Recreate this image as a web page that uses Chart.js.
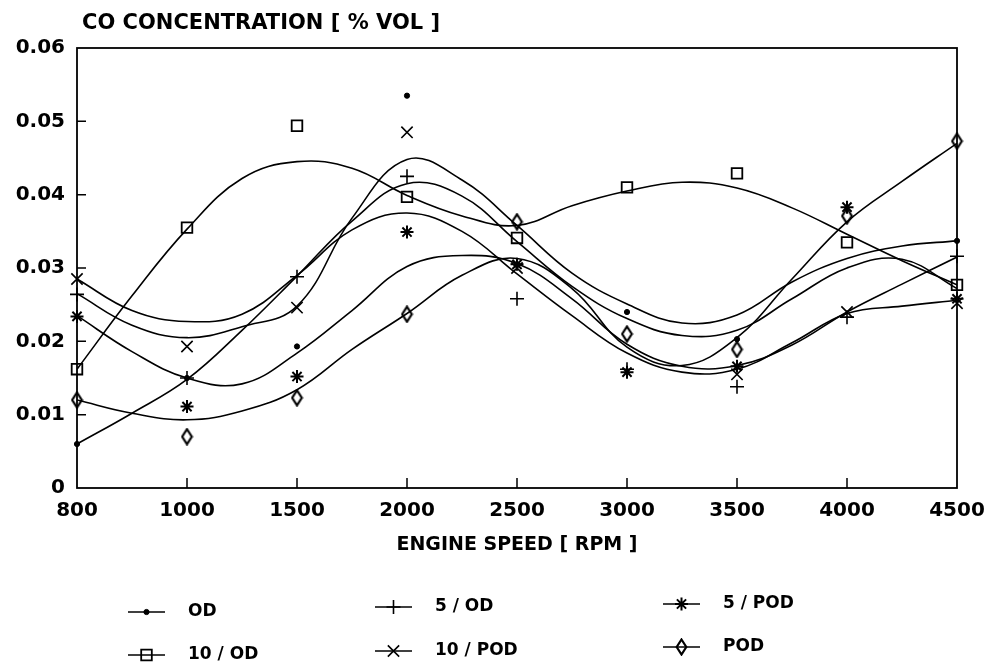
<!DOCTYPE html>
<html>
<head>
<meta charset="UTF-8">
<title>CO concentration vs engine speed</title>
<script src="https://cdn.jsdelivr.net/npm/chart.js"></script>
<style>
    html, body {
        margin: 0;
        padding: 0;
        background: #fff;
    }

    #wrap {
        position: relative;
        width: 992px;
        height: 665px;
    }
</style>
</head>
<body>
<div id="wrap"><canvas id="co" width="992" height="665"></canvas></div>
<script>
    // engine speed categories, drawn equally spaced
    const rpmLabels = ['800', '1000', '1500', '2000', '2500', '3000', '3500', '4000', '4500'];
    const yTicks = [0, 0.01, 0.02, 0.03, 0.04, 0.05, 0.06];
    const yTickLabels = ['0', '0.01', '0.02', '0.03', '0.04', '0.05', '0.06'];
    const yTitle = 'CO CONCENTRATION [ % VOL ]';
    const xTitle = 'ENGINE SPEED [ RPM ]';

    // measured points, one per rpm category (null = hidden under another marker)
    const odPts     = [0.0060, 0.0150, 0.0193, 0.0535, 0.0305, 0.0240, 0.0203, null,   0.0337];
    const fiveOdPts = [0.0264, 0.0150, 0.0288, 0.0425, 0.0258, 0.0162, 0.0138, 0.0233, 0.0316];
    const fivePodPts= [0.0234, 0.0111, 0.0152, 0.0349, 0.0305, 0.0158, 0.0166, 0.0383, 0.0258];
    const tenOdPts  = [0.0162, 0.0355, 0.0494, 0.0397, 0.0341, 0.0410, 0.0429, 0.0335, 0.0277];
    const tenPodPts = [0.0285, 0.0193, 0.0246, 0.0485, 0.0300, null,   0.0155, 0.0240, 0.0252];
    const podPts    = [0.0120, 0.0070, 0.0123, 0.0237, 0.0363, 0.0210, 0.0189, 0.0371, 0.0473];

    // fitted curves, every half category step
    const fitPos     = [0, 0.5, 1, 1.5, 2, 2.5, 3, 3.5, 4, 4.5, 5, 5.5, 6, 6.5, 7, 7.5, 8];
    const odFit      = [0.0060, 0.0102, 0.0148, 0.0215, 0.0289, 0.0364, 0.0415, 0.0398, 0.0336, 0.0275, 0.0231, 0.0208, 0.0215, 0.0258, 0.0300, 0.0312, 0.0272];
    const fiveOdFit  = [0.0265, 0.0222, 0.0205, 0.0220, 0.0248, 0.0368, 0.0448, 0.0420, 0.0358, 0.0293, 0.0251, 0.0225, 0.0236, 0.0281, 0.0313, 0.0330, 0.0337];
    const fivePodFit = [0.0235, 0.0186, 0.0150, 0.0142, 0.0184, 0.0242, 0.0302, 0.0317, 0.0306, 0.0258, 0.0196, 0.0166, 0.0167, 0.0195, 0.0240, 0.0278, 0.0315];
    const tenOdFit   = [0.0162, 0.0262, 0.0353, 0.0422, 0.0445, 0.0436, 0.0399, 0.0371, 0.0358, 0.0385, 0.0405, 0.0417, 0.0409, 0.0382, 0.0346, 0.0310, 0.0277];
    const tenPodFit  = [0.0285, 0.0242, 0.0227, 0.0237, 0.0290, 0.0352, 0.0375, 0.0350, 0.0292, 0.0235, 0.0184, 0.0158, 0.0162, 0.0198, 0.0238, 0.0248, 0.0256];
    const podFit     = [0.0120, 0.0102, 0.0093, 0.0105, 0.0134, 0.0189, 0.0238, 0.0290, 0.0313, 0.0272, 0.0192, 0.0167, 0.0205, 0.0285, 0.0363, 0.0418, 0.0470];

    const FONT = "'DejaVu Sans', 'Liberation Sans', sans-serif";

    // tall hollow diamond used for POD
    function diamond() {
        const c = document.createElement('canvas');
        c.width = 13;
        c.height = 18;
        const g = c.getContext('2d');
        g.strokeStyle = '#000';
        g.lineWidth = 2.2;
        g.beginPath();
        g.moveTo(6.5, 1.5);
        g.lineTo(11.3, 9);
        g.lineTo(6.5, 16.5);
        g.lineTo(1.7, 9);
        g.closePath();
        g.stroke();
        return c;
    }

    const series = [
        { name: 'OD',       pts: odPts,      fit: odFit,      style: 'circle',   r: 2.6, bw: 1,   fill: '#000' },
        { name: '5 / OD',   pts: fiveOdPts,  fit: fiveOdFit,  style: 'cross',    r: 7,   bw: 1.6, fill: 'transparent' },
        { name: '5 / POD',  pts: fivePodPts, fit: fivePodFit, style: 'star',     r: 6.5, bw: 2,   fill: 'transparent' },
        { name: '10 / OD',  pts: tenOdPts,   fit: tenOdFit,   style: 'rect',     r: 7.5, bw: 1.8, fill: 'transparent' },
        { name: '10 / POD', pts: tenPodPts,  fit: tenPodFit,  style: 'crossRot', r: 8,   bw: 1.6, fill: 'transparent' },
        { name: 'POD',      pts: podPts,     fit: podFit,     style: diamond(),  r: 8,   bw: 1.6, fill: 'transparent' }
    ];

    const datasets = [];
    series.forEach(s => {
        datasets.push({
            label: s.name,
            data: s.pts.map((v, i) => ({ x: i, y: v })),
            showLine: false,
            order: 0,
            clip: false,
            pointStyle: s.style,
            pointRadius: s.r,
            pointBorderWidth: s.bw,
            pointBorderColor: '#000',
            pointBackgroundColor: s.fill
        });
        datasets.push({
            label: s.name + ' fit',
            data: s.fit.map((v, i) => ({ x: fitPos[i], y: v })),
            order: 1,
            borderColor: '#000',
            borderWidth: 1.6,
            pointRadius: 0,
            fill: false,
            tension: 0.4
        });
    });

    // frame, inward ticks, top title and the two-row legend
    const paper = {
        id: 'paper',
        afterDraw(chart) {
            const { ctx, chartArea: a, scales: { x, y } } = chart;
            ctx.save();
            ctx.strokeStyle = '#000';
            ctx.lineWidth = 1.8;
            ctx.strokeRect(a.left, a.top, a.right - a.left, a.bottom - a.top);

            ctx.lineWidth = 1.5;
            ctx.beginPath();
            yTicks.slice(1, -1).forEach(v => {
                const py = y.getPixelForValue(v);
                ctx.moveTo(a.left, py);
                ctx.lineTo(a.left + 9, py);
            });
            rpmLabels.slice(1, -1).forEach((l, i) => {
                const px = x.getPixelForValue(i + 1);
                ctx.moveTo(px, a.bottom);
                ctx.lineTo(px, a.bottom - 10);
            });
            ctx.stroke();

            ctx.fillStyle = '#000';
            ctx.textAlign = 'left';
            ctx.textBaseline = 'middle';
            ctx.font = 'bold 21px ' + FONT;
            ctx.fillText(yTitle, 82, 24);

            const slots = [[128, 612], [375, 607], [663, 604], [128, 655], [375, 651], [663, 647]];
            ctx.font = 'bold 17px ' + FONT;
            series.forEach((s, i) => {
                const [lx, ly] = slots[i];
                ctx.strokeStyle = '#000';
                ctx.lineWidth = 1.6;
                ctx.beginPath();
                ctx.moveTo(lx, ly);
                ctx.lineTo(lx + 37, ly);
                ctx.stroke();
                ctx.lineWidth = s.bw;
                ctx.fillStyle = s.fill === 'transparent' ? 'rgba(0,0,0,0)' : s.fill;
                Chart.helpers.drawPoint(ctx, { pointStyle: s.style, radius: s.r, rotation: 0, borderWidth: s.bw }, lx + 18.5, ly);
                ctx.fillStyle = '#000';
                ctx.fillText(s.name, lx + 60, ly);
            });
            ctx.restore();
        }
    };

    new Chart(document.getElementById('co'), {
        type: 'line',
        data: { datasets: datasets },
        options: {
            responsive: false,
            animation: false,
            layout: { padding: { top: 48, right: 35, bottom: 109, left: 0 } },
            plugins: {
                legend: { display: false },
                tooltip: { enabled: false }
            },
            scales: {
                x: {
                    type: 'linear',
                    min: 0,
                    max: rpmLabels.length - 1,
                    afterFit(scale) {
                        scale.height = 68;
                        scale.paddingLeft = 0;
                        scale.paddingRight = 0;
                    },
                    grid: { display: false, drawTicks: false },
                    border: { display: false },
                    ticks: {
                        stepSize: 1,
                        padding: 11,
                        autoSkip: false,
                        maxRotation: 0,
                        color: '#000',
                        font: { family: FONT, size: 20, weight: 'bold' },
                        callback: v => rpmLabels[v]
                    },
                    title: {
                        display: true,
                        text: xTitle,
                        color: '#000',
                        font: { family: FONT, size: 19, weight: 'bold' },
                        padding: { top: 10, bottom: 0 }
                    }
                },
                y: {
                    min: 0,
                    max: 0.06,
                    afterFit(scale) { scale.width = 77; },
                    grid: { display: false, drawTicks: false },
                    border: { display: false },
                    ticks: {
                        stepSize: 0.01,
                        padding: 12,
                        color: '#000',
                        font: { family: FONT, size: 20, weight: 'bold' },
                        callback: v => {
                            const k = yTicks.findIndex(t => Math.abs(t - v) < 1e-9);
                            return k < 0 ? '' : yTickLabels[k];
                        }
                    }
                }
            }
        },
        plugins: [paper]
    });
</script>
</body>
</html>
